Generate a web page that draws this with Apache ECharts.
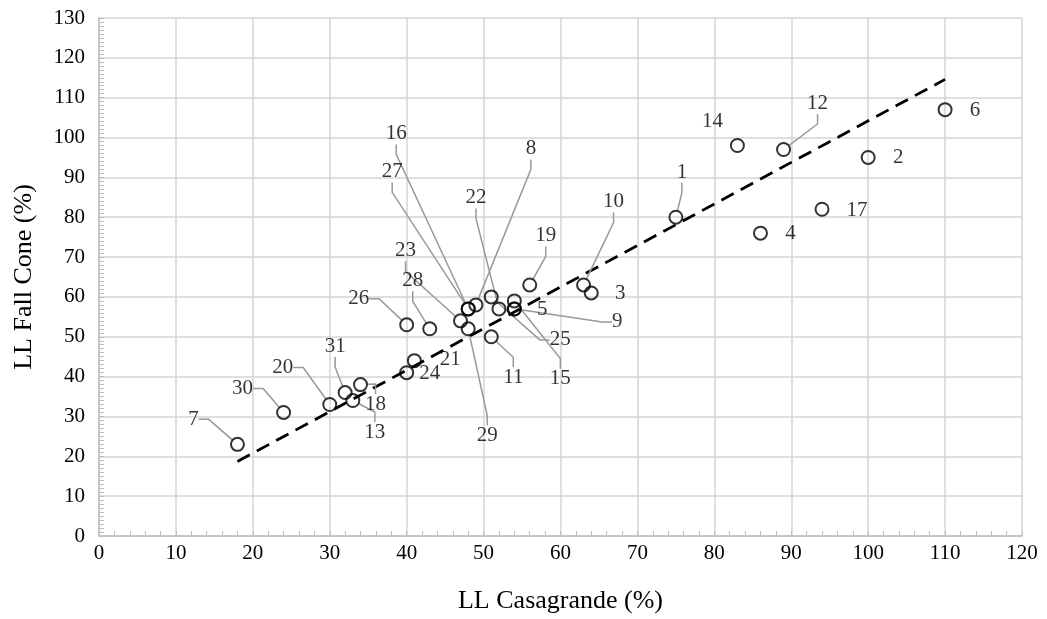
<!DOCTYPE html>
<html>
<head>
<meta charset="utf-8">
<script src="https://cdn.jsdelivr.net/npm/echarts@6/dist/echarts.min.js"></script>
<style>
  html, body { margin: 0; padding: 0; background: #fff; }
  #chart { width: 1047px; height: 619px; }
</style>
</head>
<body>
<div id="chart"></div>
<script>
// sample numbers and liquid limits (%)
const sampleIds = [1, 2, 3, 4, 5, 6, 7, 8, 9, 10, 11, 12, 13, 14, 15, 16, 17, 18, 19, 20, 21, 22, 23, 24, 25, 26, 27, 28, 29, 30, 31];
const llCasagrande = [75, 100, 64, 86, 54, 110, 18, 49, 54, 63, 51, 89, 33, 83, 54, 48, 94, 34, 56, 30, 41, 52, 47, 40, 51, 40, 48, 43, 48, 24, 32];
const llFallCone = [80, 95, 61, 76, 57, 107, 23, 58, 57, 63, 50, 97, 34, 98, 59, 57, 82, 38, 63, 33, 44, 57, 54, 41, 60, 53, 57, 52, 52, 31, 36];

// dashed trend line end points
const trendX = [18, 110];
const trendY = [18.7, 114.6];

// label placement (pixel offset from marker) and leader lines
const labelDx = [6, 30, 29, 30, 28, 30, -44, 55, 103, 30, 22, 34, 22, -25, 46, -72, 35, 15, 16, -47, 36, -23, -55, 23, 69, -48, -76, -17, 19, -41, -10];
const labelDy = [-45, 0, 1, 0, 1, 1, -25, -156, 13, -83, 41, -46, 32, -24, 78, -175, 1, 20, -49, -37, -1, -111, -70, 1, 43, -26, -137, -48, 107, -24, -46];
const hasLeader = [1, 0, 0, 0, 0, 0, 1, 1, 1, 1, 1, 1, 1, 0, 1, 1, 0, 1, 1, 1, 0, 1, 1, 0, 1, 1, 1, 1, 1, 1, 1];

const font = "'Liberation Serif', 'Times New Roman', serif";

const chart = echarts.init(document.getElementById("chart"));

const points = sampleIds.map(function (id, i) {
  return {
    name: String(id),
    value: [llCasagrande[i], llFallCone[i]],
    labelLine: { show: hasLeader[i] === 1 },
  };
});

const option = {
  animation: false,
  backgroundColor: "#fff",
  grid: {
    left: 99,
    right: 25,
    top: 18,
    bottom: 81,
  },
  xAxis: {
    type: "value",
    min: 0,
    max: 120,
    interval: 10,
    name: "LL Casagrande (%)",
    nameLocation: "middle",
    nameGap: 52,
    nameTextStyle: { fontFamily: font, fontSize: 26, color: "#000" },
    axisLine: { lineStyle: { color: "#bfbfbf", width: 1.5 } },
    axisTick: { show: true, inside: true, length: 5, lineStyle: { color: "#bfbfbf" } },
    minorTick: { show: true, splitNumber: 5, length: 5, lineStyle: { color: "#bfbfbf" } },
    axisLabel: { fontFamily: font, fontSize: 21, color: "#000", margin: 7 },
    splitLine: { lineStyle: { color: "#d4d4d4", width: 1.5 } },
  },
  yAxis: {
    type: "value",
    min: 0,
    max: 130,
    interval: 10,
    name: "LL Fall Cone (%)",
    nameLocation: "middle",
    nameGap: 62,
    nameTextStyle: { fontFamily: font, fontSize: 26, color: "#000" },
    axisLine: { show: true, lineStyle: { color: "#bfbfbf", width: 1.5 } },
    axisTick: { show: true, inside: true, length: 5, lineStyle: { color: "#bfbfbf" } },
    minorTick: { show: true, splitNumber: 10, length: 5, lineStyle: { color: "#bfbfbf" } },
    axisLabel: { fontFamily: font, fontSize: 21, color: "#000", margin: 14 },
    splitLine: { lineStyle: { color: "#d4d4d4", width: 1.5 } },
  },
  series: [
    {
      name: "Trend",
      type: "line",
      data: trendX.map(function (x, i) { return [x, trendY[i]]; }),
      symbol: "none",
      lineStyle: { color: "#000", width: 2.8, type: [14, 8] },
      z: 1,
    },
    {
      name: "Samples",
      type: "scatter",
      data: points,
      symbol: "circle",
      symbolSize: 13,
      itemStyle: { color: "rgba(0,0,0,0)", borderColor: "#000", borderWidth: 2 },
      label: {
        show: true,
        formatter: "{b}",
        fontFamily: font,
        fontSize: 21,
        color: "#000",
      },
      labelLine: {
        show: true,
        length2: 10,
        lineStyle: { color: "#999", width: 1.5 },
      },
      labelLayout: function (params) {
        const i = params.dataIndex;
        return {
          x: params.rect.x + params.rect.width / 2 + labelDx[i],
          y: params.rect.y + params.rect.height / 2 + labelDy[i],
          align: "center",
          verticalAlign: "middle",
        };
      },
      z: 2,
    },
  ],
};

chart.setOption(option);
window.addEventListener("resize", function () {
  chart.resize();
});
</script>
</body>
</html>
